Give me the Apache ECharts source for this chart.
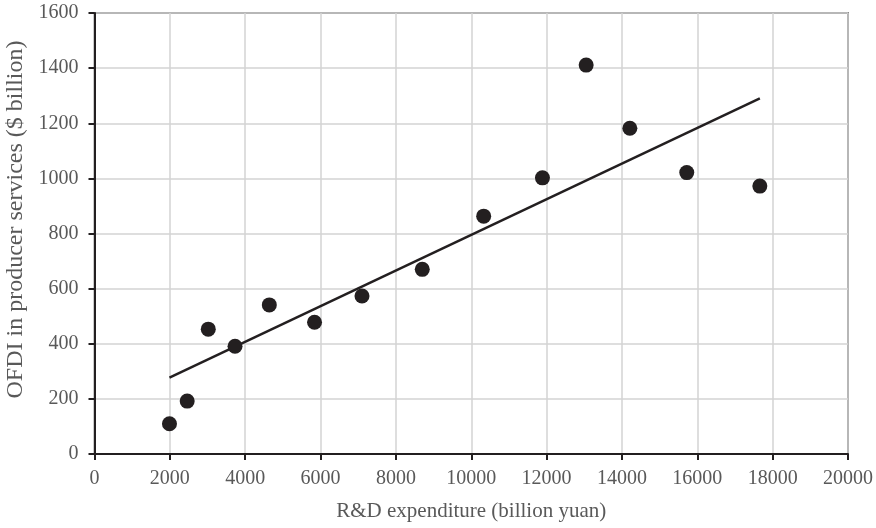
<!DOCTYPE html>
<html>
<head>
<meta charset="utf-8">
<script src="https://cdn.jsdelivr.net/npm/echarts@6/dist/echarts.min.js"></script>
<style>html,body{margin:0;padding:0;background:#fff}#c{width:876px;height:528px}</style>
</head>
<body>
<div id="c"></div>
<script>
const rdExpenditure = [1990, 2460, 3020, 3730, 4640, 5840, 7100, 8700, 10330, 11890, 13050, 14210, 15720, 17660];
const ofdiServices  = [110, 192, 453, 391, 541, 478, 573, 670, 863, 1002, 1411, 1182, 1021, 972];
const trendX = [1990, 17660];
const trendY = [277, 1290];
const xTicks = [0, 20000, 2000];
const yTicks = [0, 1600, 200];

const points = rdExpenditure.map((x, i) => [x, ofdiServices[i]]);
const trend = trendX.map((x, i) => [x, trendY[i]]);
const font = '"Liberation Serif", "DejaVu Serif", serif';
const textColor = '#595959';
const dark = '#231f20';

const chart = echarts.init(document.getElementById('c'), null, {renderer: 'canvas'});
chart.setOption({
  animation: false,
  backgroundColor: '#ffffff',
  grid: {left: 94.5, right: 28, top: 13, bottom: 74, show: true, borderColor: '#333', borderWidth: 1.5,
         backgroundColor: 'transparent', containLabel: false, outerBoundsMode: 'none'},
  xAxis: {
    type: 'value', min: xTicks[0], max: xTicks[1], interval: xTicks[2],
    name: 'R&D expenditure (billion yuan)', nameLocation: 'middle', nameGap: 47,
    nameTextStyle: {fontFamily: font, fontSize: 21, color: textColor},
    axisLine: {show: true, onZero: false, lineStyle: {color: dark, width: 2}},
    axisTick: {show: true, length: 6, lineStyle: {color: dark, width: 2}},
    axisLabel: {fontFamily: font, fontSize: 20, color: textColor, margin: 15, formatter: v => String(v)},
    splitLine: {show: true, lineStyle: {color: '#d3d3d3', width: 1.5}}
  },
  yAxis: {
    type: 'value', min: yTicks[0], max: yTicks[1], interval: yTicks[2],
    name: 'OFDI in producer services ($ billion)', nameLocation: 'middle', nameGap: 66,
    nameTextStyle: {fontFamily: font, fontSize: 24, color: textColor, padding: [0, 0, 0, 28]},
    axisLine: {show: true, onZero: false, lineStyle: {color: dark, width: 2}},
    axisTick: {show: true, length: 6, lineStyle: {color: dark, width: 2}},
    axisLabel: {fontFamily: font, fontSize: 20, color: textColor, margin: 16, formatter: v => String(v)},
    splitLine: {show: true, lineStyle: {color: '#d3d3d3', width: 1.5}}
  },
  series: [
    {type: 'line', data: trend, symbol: 'none', lineStyle: {color: dark, width: 2.5}, z: 3},
    {type: 'scatter', data: points, symbolSize: 15, itemStyle: {color: dark, opacity: 1}, z: 4}
  ]
});
</script>
</body>
</html>
